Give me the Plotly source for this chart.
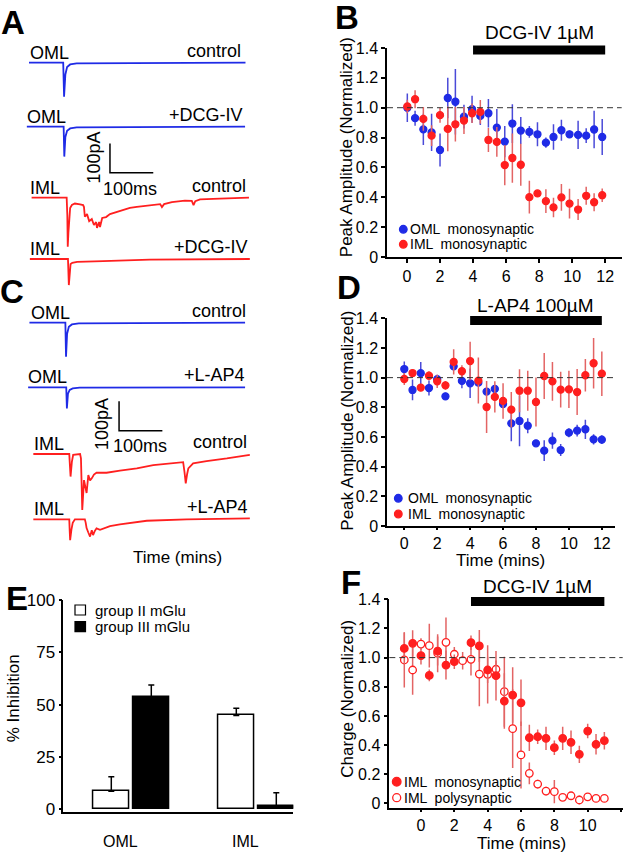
import plotly.graph_objects as go

W, H = 626, 852
FONT = "Liberation Sans, Arial, sans-serif"
BLUE = "#1f2be6"
RED = "#ff1f1f"
BLUE_ERR = "#4a4ad8"
RED_ERR = "#e36464"

# ---------------- A / C : example currents (time in ms, current in pA) ----------------
a_oml_ctrl_t = [0, 79, 81, 82, 84, 88, 95, 110, 500]
a_oml_ctrl_i = [0, 0, -116, -90, -40, -15, -6, -2, 0]
a_oml_dcg_t = [-5, 80, 81.5, 82.5, 84, 88, 95, 110, 499]
a_oml_dcg_i = [0, 0, -102, -80, -35, -14, -6, -2, 0]
a_iml_ctrl_t = [6, 87, 88.5, 89.5, 91, 93, 95, 99, 106, 118, 125, 127, 129, 134, 139, 145, 150,
                155, 157, 162, 164, 169, 178, 187, 203, 217, 233, 249, 268, 279, 303, 307, 312,
                330, 360, 376, 380, 384, 395, 441, 508]
a_iml_ctrl_i = [0, 0, -60, -167, -120, -70, -35, -25, -20, -23, -25, -32, -65, -56, -80, -73, -93,
                -83, -103, -83, -100, -69, -66, -56, -49, -42, -35, -31, -27, -25, -22, -32, -22,
                -15, -10, -11, -25, -12, -6, -3, 0]
a_iml_dcg_t = [2, 90, 92, 93.5, 96, 100, 111, 171, 279, 510]
a_iml_dcg_i = [0, 0, -89, -45, -17, -13, -10, -7, -2, 0]

c_oml_ctrl_t = [1, 84, 85.5, 86.5, 88, 92, 99, 115, 499]
c_oml_ctrl_i = [0, 0, -116, -85, -38, -14, -6, -2, 0]
c_oml_lap4_t = [-2, 86, 87.5, 88.5, 90, 94, 101, 117, 499]
c_oml_lap4_i = [0, 0, -72, -50, -22, -9, -4, -1, 0]
c_iml_ctrl_t = [10, 93, 94.5, 96, 99, 102, 118, 120, 121.5, 123, 127, 130, 133, 137, 141, 145, 150,
                156, 179, 210, 249, 287, 326, 356, 359, 362, 365, 368, 379, 410, 457, 510]
c_iml_ctrl_i = [0, 0, -40, -77, -27, -3, 0, -15, -100, -191, -89, -110, -133, -72, -90, -83, -70,
                -64, -64, -57, -49, -38, -32, -28, -60, -100, -70, -49, -32, -24, -15, -3]
c_iml_lap4_t = [10, 93, 94, 95, 98, 101, 106, 129, 131, 133, 137, 141, 145, 148, 152, 156, 164,
                187, 210, 272, 364, 510]
c_iml_lap4_i = [0, 0, -40, -71, -35, -12, 0, 0, -12, -30, -45, -59, -37, -54, -40, -31, -36,
                -23, -17, -5, 0, 3]

SCALE_MS = 100
SCALE_PA = 100

# ---------------- B : DCG-IV, peak amplitude ----------------
b_time = [0.02, 0.49, 0.99, 1.49, 2.0, 2.47, 2.93, 3.45, 3.94, 4.44, 4.93, 5.44, 5.92, 6.38,
          6.89, 7.41, 7.9, 8.41, 8.87, 9.35, 9.84, 10.36, 10.85, 11.33, 11.82]
b_oml = [1.0, 0.93, 0.855, 0.835, 0.717, 1.065, 1.04, 0.94, 0.99, 0.945, 0.963, 0.867, 0.773,
         0.894, 0.847, 0.838, 0.822, 0.766, 0.804, 0.849, 0.822, 0.818, 0.813, 0.854, 0.804]
b_oml_err = [0.095, 0.05, 0.105, 0.125, 0.11, 0.135, 0.22, 0.08, 0.09, 0.06, 0.095, 0.125, 0.105,
             0.13, 0.09, 0.04, 0.08, 0.035, 0.085, 0.07, 0.025, 0.095, 0.05, 0.125, 0.12]
b_iml = [1.008, 1.057, 0.925, 0.813, 0.95, 0.858, 0.889, 0.914, 0.963, 0.972, 0.784, 0.771,
         0.616, 0.663, 0.618, 0.401, 0.426, 0.374, 0.332, 0.399, 0.358, 0.318, 0.41, 0.367, 0.414]
b_iml_err = [0.045, 0.06, 0.08, 0.07, 0.05, 0.15, 0.115, 0.09, 0.065, 0.08, 0.08, 0.1, 0.135,
             0.165, 0.14, 0.11, 0.015, 0.08, 0.065, 0.09, 0.1, 0.07, 0.06, 0.06, 0.045]
b_drug = [4, 12]

# ---------------- D : L-AP4, peak amplitude ----------------
d_time = [0, 0.5, 1, 1.5, 2, 2.5, 3, 3.5, 4, 4.5, 5, 5.5, 6, 6.5, 7, 7.5, 8, 8.5, 9, 9.5, 10,
          10.5, 11, 11.5, 12]
d_oml = [1.058, 0.917, 1.03, 0.93, 0.99, 0.874, 1.076, 0.978, 0.962, 0.966, 0.906, 0.924, 0.822,
         0.692, 0.708, 0.676, 0.557, 0.508, 0.575, 0.512, 0.629, 0.643, 0.652, 0.584, 0.582]
d_oml_err = [0.05, 0.07, 0.075, 0.05, 0.03, 0.025, 0.015, 0.05, 0.1, 0.02, 0.025, 0.025, 0.025,
             0.12, 0.17, 0.05, 0.02, 0.07, 0.055, 0.04, 0.03, 0.04, 0.065, 0.035, 0.03]
d_iml = [0.991, 1.031, 0.933, 1.013, 0.975, 0.948, 1.106, 1.043, 1.112, 0.98, 0.802, 0.87, 0.843,
         0.784, 0.912, 0.912, 0.836, 1.011, 0.975, 0.919, 0.921, 0.903, 1.016, 1.097, 1.027]
d_iml_err = [0.04, 0.01, 0.025, 0.03, 0.045, 0.03, 0.085, 0.04, 0.13, 0.155, 0.175, 0.105, 0.12,
             0.12, 0.145, 0.135, 0.165, 0.155, 0.13, 0.12, 0.125, 0.155, 0.11, 0.17, 0.15]
d_drug = [4, 12]

# ---------------- F : DCG-IV, charge ----------------
f_time = [-1, -0.5, 0, 0.5, 1, 1.5, 2, 2.5, 3, 3.5, 4, 4.5, 5, 5.5, 6, 6.5, 7, 7.5, 8, 8.5, 9,
          9.5, 10, 10.5, 11]
f_mono = [1.063, 1.098, 1.013, 0.878, 1.045, 0.949, 0.972, None, 1.102, 1.08, 0.915, 0.876,
          0.702, 0.743, 0.69, 0.45, 0.457, 0.446, 0.382, 0.446, 0.419, 0.336, 0.496, 0.405, 0.43]
f_mono_err = [0.11, 0.09, 0.06, 0.04, 0.1, 0.1, 0.05, 0, 0.05, 0.11, 0.09, 0.17, 0.19, 0.19,
              0.16, 0.09, 0.05, 0.08, 0.05, 0.08, 0.08, 0.06, 0.05, 0.07, 0.06]
f_poly = [0.984, 0.915, 1.093, 1.082, 1.03, 1.105, 1.023, 0.979, 0.988, 0.887, 0.885, 0.92,
          0.766, 0.512, 0.332, 0.206, 0.132, 0.084, 0.08, 0.041, 0.052, 0.023, 0.045, 0.034, 0.034]
f_poly_err = [0.19, 0.17, 0.04, 0.15, 0.13, 0.17, 0.05, 0.06, 0.11, 0.22, 0.2, 0.06, 0.24, 0.27,
              0.23, 0.075, 0.03, 0.03, 0.08, 0.015, 0.02, 0.03, 0.015, 0.015, 0.025]
f_drug = [3, 11]

# ---------------- E : % inhibition ----------------
e_groups = [1, 2]
e_group_labels = ["OML", "IML"]
e_grp2 = [8.7, 44.9]
e_grp2_err = [6.9, 3.4]
e_grp3 = [53.8, 1.75]
e_grp3_err = [5.6, 6.25]

TICK_TEXT = ["0", "0.2", "0.4", "0.6", "0.8", "1.0", "1.2", "1.4"]
TICK_VALS = [0, 0.2, 0.4, 0.6, 0.8, 1.0, 1.2, 1.4]


def fx(px):
    return px / W


def fy(py):
    return 1 - py / H


def note(text, x, y, size, xanchor="center", angle=0, xref="paper"):
    # text placed by pixel position (x in paper px unless xref is an axis)
    return dict(text=text, x=fx(x) if xref == "paper" else x, y=fy(y), xref=xref, yref="paper",
                xanchor=xanchor, yanchor="middle", textangle=angle, showarrow=False,
                font=dict(size=size, color="black"))


# pixel scale of the example traces
MS_PX = 0.433   # px per ms
PA_PX = 0.293   # px per pA
T0_PX = 29      # x pixel of t = 0

fig = go.Figure()
annotations = []
shapes = []

# ==========================================================
# A and C: current traces, each on its own hidden y axis
# ==========================================================
traces_ac = [
    # t, i, color, baseline px, left label, left x, right label, right x
    (a_oml_ctrl_t, a_oml_ctrl_i, BLUE, 62.7, "OML", 28, "control", 243),
    (a_oml_dcg_t, a_oml_dcg_i, BLUE, 126.7, "OML", 25, "+DCG-IV", 245),
    (a_iml_ctrl_t, a_iml_ctrl_i, RED, 197.7, "IML", 28, "control", 248),
    (a_iml_dcg_t, a_iml_dcg_i, RED, 259.0, "IML", 28, "+DCG-IV", 250),
    (c_oml_ctrl_t, c_oml_ctrl_i, BLUE, 322.7, "OML", 29, "control", 248),
    (c_oml_lap4_t, c_oml_lap4_i, BLUE, 387.3, "OML", 26, "+L-AP4", 247),
    (c_iml_ctrl_t, c_iml_ctrl_i, RED, 454.0, "IML", 32, "control", 249),
    (c_iml_lap4_t, c_iml_lap4_i, RED, 519.3, "IML", 32, "+L-AP4", 250),
]

axes = {}
axes["xaxis"] = dict(domain=[0, fx(300)], range=[-T0_PX / MS_PX, (300 - T0_PX) / MS_PX],
                     visible=False, anchor="y", automargin=False)
for k, (t, cur, col, base, ll, lx, rl, rx) in enumerate(traces_ac):
    yname = "y" if k == 0 else f"y{k + 1}"
    axes["yaxis" if k == 0 else f"yaxis{k + 1}"] = dict(
        domain=[fy(base + 65), fy(base - 15)], range=[-65 / PA_PX, 15 / PA_PX],
        visible=False, anchor="x", automargin=False)
    fig.add_trace(go.Scatter(x=t, y=cur, mode="lines", xaxis="x", yaxis=yname,
                             line=dict(color=col, width=1.8), showlegend=False, hoverinfo="skip"))
    annotations.append(note(ll, lx, base - 10, 18, xanchor="left"))
    annotations.append(note(rl, rx, base - 12, 18, xanchor="right"))

# scale bars (100 pA / 100 ms), drawn on the 2nd trace axis of A and C
for yname, corner_t, corner_i, lab_pa, lab_ms in [("y2", 187, -157, (93.5, 158), (129.5, 189)),
                                                   ("y6", 208, -148, (102, 424), (140, 446))]:
    fig.add_trace(go.Scatter(x=[corner_t, corner_t, corner_t + SCALE_MS],
                             y=[corner_i + SCALE_PA, corner_i, corner_i],
                             mode="lines", xaxis="x", yaxis=yname,
                             line=dict(color="black", width=1.5), showlegend=False, hoverinfo="skip"))
    annotations.append(note(f"{SCALE_PA}pA", lab_pa[0], lab_pa[1], 18, angle=-90))
    annotations.append(note(f"{SCALE_MS}ms", lab_ms[0], lab_ms[1], 18))

annotations.append(note("Time (mins)", 178, 557, 17))

# ==========================================================
# B, D, F: time courses
# ==========================================================
axis_style = dict(showline=True, linecolor="black", linewidth=1.5, ticks="outside", ticklen=4,
                  tickwidth=1.5, tickcolor="black", showgrid=False, zeroline=False,
                  automargin=False, tickfont=dict(size=16, color="black"))

panels = [
    # xname, yname, x domain px, y domain px, x range, y range, x ticklen
    ("x2", "y9", (387, 621.7), (257, 48), [-1.21, 13.0], [0, 1.4], 4),
    ("x3", "y10", (387, 615), (526, 318.3), [-1.05, 12.8], [0, 1.4], 2),
    ("x4", "y11", (389.3, 622.7), (808.3, 599.3), [-1.9, 12.1], [-0.034, 1.4], 2),
]
for xn, yn, xd, yd, xr, yr, tl in panels:
    axes["xaxis" + xn[1:]] = dict(domain=[fx(xd[0]), fx(xd[1])], range=xr, anchor=yn,
                                 tickvals=[0, 2, 4, 6, 8, 10, 12],
                                 **{**axis_style, "ticklen": tl})
    axes["yaxis" + yn[1:]] = dict(domain=[fy(yd[0]), fy(yd[1])], range=yr, anchor=xn,
                                 tickvals=TICK_VALS, ticktext=TICK_TEXT, **axis_style)
    shapes.append(dict(type="line", xref=xn + " domain", x0=0, x1=1, yref=yn, y0=1, y1=1,
                       line=dict(color="#333333", width=1, dash="6px,4px")))


def err_series(x, y, err, xn, yn, color, ecolor, size, fill=None):
    fig.add_trace(go.Scatter(
        x=x, y=y, mode="markers", xaxis=xn, yaxis=yn, showlegend=False,
        error_y=dict(type="data", array=err, color=ecolor, thickness=1.5, width=0),
        marker=dict(size=size, color=fill or color, line=dict(color=color, width=1.3))))


err_series(b_time, b_oml, b_oml_err, "x2", "y9", BLUE, BLUE_ERR, 7)
err_series(b_time, b_iml, b_iml_err, "x2", "y9", RED, RED_ERR, 7)
err_series(d_time, d_oml, d_oml_err, "x3", "y10", BLUE, BLUE_ERR, 7)
err_series(d_time, d_iml, d_iml_err, "x3", "y10", RED, RED_ERR, 7)
err_series(f_time, f_poly, f_poly_err, "x4", "y11", RED, RED_ERR, 7.5, fill="white")
err_series(f_time, f_mono, f_mono_err, "x4", "y11", RED, RED_ERR, 7.5)

# drug application bars + labels
for xn, yn, drug, label, ly in [("x2", "y9", b_drug, "DCG-IV 1µM", 33),
                                ("x3", "y10", d_drug, "L-AP4 100µM", 306),
                                ("x4", "y11", f_drug, "DCG-IV 1µM", 586.5)]:
    shapes.append(dict(type="line", xref=xn, x0=drug[0], x1=drug[1], yref=yn + " domain",
                       y0=0.99, y1=0.99, line=dict(color="black", width=9)))
    annotations.append(note(label, sum(drug) / 2, ly, 19, xref=xn))

# axis titles
for txt, x, y, ang in [("Peak Amplitude (Normalized)", 346.7, 147.5, -90),
                       ("Peak Amplitude (Normalized)", 346.7, 421, -90),
                       ("Charge (Normalized)", 346.7, 699, -90),
                       ("Time (mins)", 500, 560, 0),
                       ("Time (mins)", 521.7, 843.5, 0),
                       ("% Inhibition", 13.3, 698, -90)]:
    annotations.append(note(txt, x, y, 17, angle=ang))


# hand-made legends
def legend_dot(cx, cy, r, fill, line, text, tx):
    shapes.append(dict(type="circle", xref="paper", yref="paper",
                       x0=fx(cx - r), x1=fx(cx + r), y0=fy(cy + r), y1=fy(cy - r),
                       fillcolor=fill, line=dict(color=line, width=1.3)))
    annotations.append(note(text, tx, cy, 14, xanchor="left"))


legend_dot(403.3, 229.3, 3.8, BLUE, BLUE, "OML  monosynaptic", 408)
legend_dot(403.3, 244.3, 3.8, RED, RED, "IML  monosynaptic", 408)
legend_dot(398.3, 498.3, 3.8, BLUE, BLUE, "OML  monosynaptic", 406)
legend_dot(398.3, 514.0, 3.8, RED, RED, "IML  monosynaptic", 406)
legend_dot(396.7, 781.7, 4.3, RED, RED, "IML  monosynaptic", 401.5)
legend_dot(396.7, 797.7, 4.0, "white", RED, "IML  polysynaptic", 401.5)

# ==========================================================
# E: bar chart
# ==========================================================
axes["xaxis5"] = dict(domain=[fx(63.3), fx(293.3)], range=[0.456, 2.296], anchor="y12",
                      showline=True, linecolor="black", linewidth=1.5, showgrid=False,
                      zeroline=False, tickvals=[g - 0.088 for g in e_groups],
                      ticktext=e_group_labels, ticks="outside", ticklen=14, automargin=False,
                      tickcolor="rgba(0,0,0,0)", tickfont=dict(size=16, color="black"))
axes["yaxis12"] = dict(domain=[fy(811.7), fy(600)], range=[-1.1, 100], anchor="x5",
                       tickvals=[0, 25, 50, 75, 100], **{**axis_style, "ticklen": 3,
                                                         "tickfont": dict(size=17, color="black")})

for vals, errs, col, off in [(e_grp2, e_grp2_err, "white", -0.304),
                             (e_grp3, e_grp3_err, "black", 0.016)]:
    fig.add_trace(go.Bar(x=e_groups, y=vals, width=0.288, offset=off, xaxis="x5", yaxis="y12",
                         marker=dict(color=col, line=dict(color="black", width=1.5)),
                         error_y=dict(type="data", symmetric=False, array=errs,
                                      arrayminus=[0] * len(errs), color="black",
                                      thickness=1.5, width=3),
                         showlegend=False))

for cy, fill, text in [(610, "white", "group II mGlu"), (626.7, "black", "group III mGlu")]:
    shapes.append(dict(type="rect", xref="paper", yref="paper", x0=fx(75), x1=fx(85.5),
                       y0=fy(cy + 5), y1=fy(cy - 5), fillcolor=fill,
                       line=dict(color="black", width=1.2)))
    annotations.append(note(text, 93, cy, 15, xanchor="left"))

# panel letters
for letter, x, y in [("A", 13, 22), ("B", 347, 17), ("C", 12, 291), ("D", 349, 287),
                     ("E", 17, 598), ("F", 351, 582)]:
    annotations.append(note(f"<b>{letter}</b>", x, y, 33))

fig.update_layout(
    width=W, height=H, margin=dict(l=0, r=0, t=0, b=0, autoexpand=False),
    paper_bgcolor="white", plot_bgcolor="rgba(0,0,0,0)",
    font=dict(family=FONT, color="black", size=16),
    showlegend=False, bargap=0,
    shapes=shapes, annotations=annotations,
    **axes,
)

# the page's default body margin would shift the figure by 8 px
fig.write_html("out.html", config={"displayModeBar": False},
               post_script="document.body.style.margin = '0';")
